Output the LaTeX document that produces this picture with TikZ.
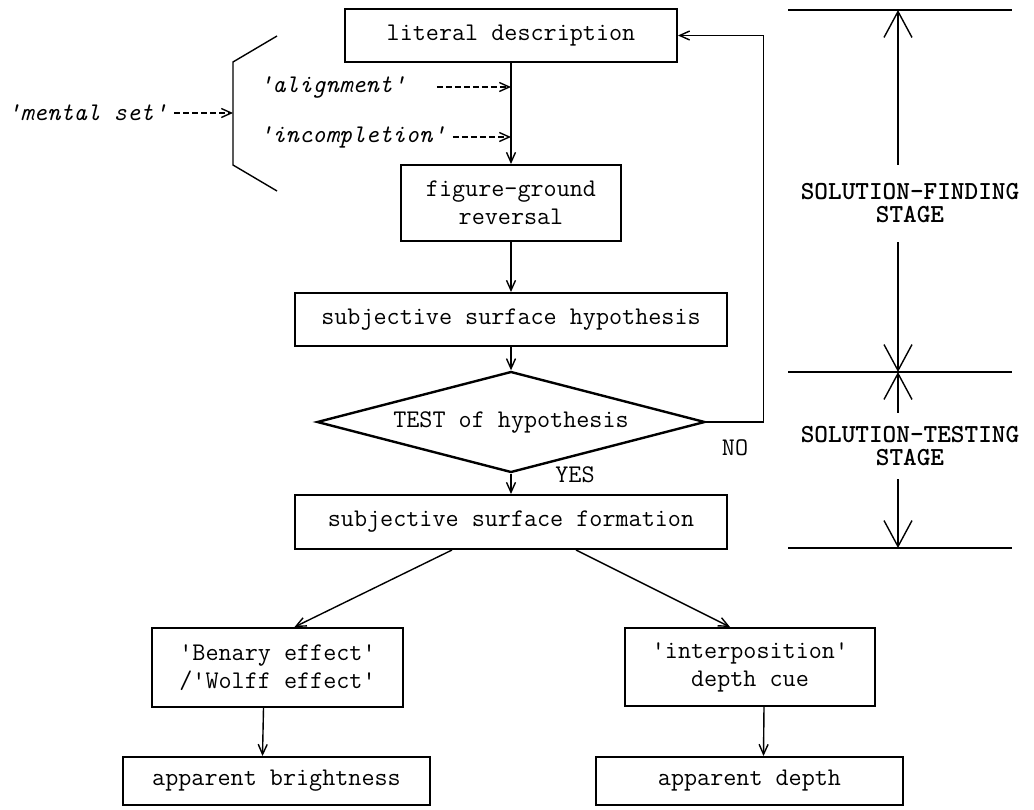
\documentclass[tikz,border=0pt]{standalone}
\usepackage{tikz}
\usetikzlibrary{arrows.meta, shapes.geometric, positioning, calc}

\begin{document}
\begin{tikzpicture}[x=0.5pt, y=-0.5pt,
    font=\ttfamily\fontsize{12.7pt}{14pt}\selectfont,
    box/.style={draw, line width=1pt, align=center, inner sep=0pt},
    flow/.style={-{Straight Barb[length=5pt,width=4.5pt]}, line width=0.7pt},
    hint/.style={flow, dash pattern=on 3pt off 1.5pt},
    stagelabel/.style={align=center, inner sep=0pt,
        font=\ttfamily\bfseries\fontsize{13pt}{11.5pt}\selectfont},
    stagearrow/.style={-{Straight Barb[length=13pt,width=14pt]}, line width=0.7pt}
]
\useasboundingbox (0,0) rectangle (1034,809);

% main column
\node[box, minimum width=166pt, minimum height=26.5pt] (lit) at (511,35.5) {literal description};
\node[box, minimum width=110pt, minimum height=38pt] (fig) at (511,203) {figure-ground\\reversal};
\node[box, minimum width=216pt, minimum height=26.5pt] (hyp) at (511,319.5) {subjective surface hypothesis};
\node[draw, diamond, aspect=3.84, line width=1.2pt, inner sep=0pt,
      minimum width=194pt, minimum height=50.5pt] (test) at (511,422) {TEST of hypothesis};
\node[box, minimum width=216pt, minimum height=27pt] (form) at (511,522) {subjective surface formation};

\node (yes) at (575,475) {YES};
\node (no) at (735,448) {NO};

\draw[flow] (lit) -- (fig);
\draw[flow] (fig) -- (hyp);
\draw[flow] (hyp) -- (test);
\draw[flow] (test) -- (form);
\draw[flow] (test.east) -- ++(57,0) |- (lit.east);

% mental set
\node[anchor=west] (mental) at (0,113) {\itshape 'mental set'};
\node[anchor=west] (align) at (252,87) {\itshape 'alignment'};
\node[anchor=west] (incomp) at (252,137) {\itshape 'incompletion'};
\coordinate (brk) at (233,113);
\draw[line width=0.7pt] (277,36) -- (233,62) -- (233,165) -- (277,191);
\draw[hint] (mental.east) -- (brk);
\draw[hint] ([xshift=12pt]align.east) -- (align.east -| lit.south);
\draw[hint] (incomp.east) -- (incomp.east -| lit.south);

% two branches
\node[box, minimum width=125.5pt, minimum height=39.5pt] (benary) at (277.5,667.5) {'Benary effect'\\/'Wolff effect'};
\node[box, minimum width=125pt, minimum height=39pt] (inter) at (750,667) {'interposition'\\depth cue};
\node[box, minimum width=153.5pt, minimum height=24pt] (bright) at (276.5,781) {apparent brightness};
\node[box, minimum width=153.5pt, minimum height=24pt] (depth) at (749.5,781) {apparent depth};

\draw[flow] ($(form.south)+(-59,0)$) -- ($(benary.north)+(17,0)$);
\draw[flow] ($(form.south)+(65,0)$) -- ($(inter.north)+(-20,0)$);
\draw[flow] ([xshift=-7pt]benary.south) -- ([xshift=-7pt]bright.north);
\draw[flow] ([xshift=7pt]inter.south) -- ([xshift=7pt]depth.north);

% stages
\coordinate (top) at (898,10);
\coordinate (mid) at (898,372);
\coordinate (bot) at (898,548);
\draw[line width=0.7pt] (788,10) -- (1012,10);
\draw[line width=0.7pt] (788,372) -- (1012,372);
\draw[line width=0.7pt] (788,548) -- (1012,548);
\node[stagelabel, minimum height=38.5pt] (find) at (910,203.5) {SOLUTION-FINDING\\STAGE};
\node[stagelabel, minimum height=33pt] (tst) at (910,446) {SOLUTION-TESTING\\STAGE};
\draw[stagearrow] (find.north -| top) -- (top);
\draw[stagearrow] (find.south -| top) -- (mid);
\draw[stagearrow] (tst.north -| mid) -- (mid);
\draw[stagearrow] (tst.south -| bot) -- (bot);
\end{tikzpicture}
\end{document}
